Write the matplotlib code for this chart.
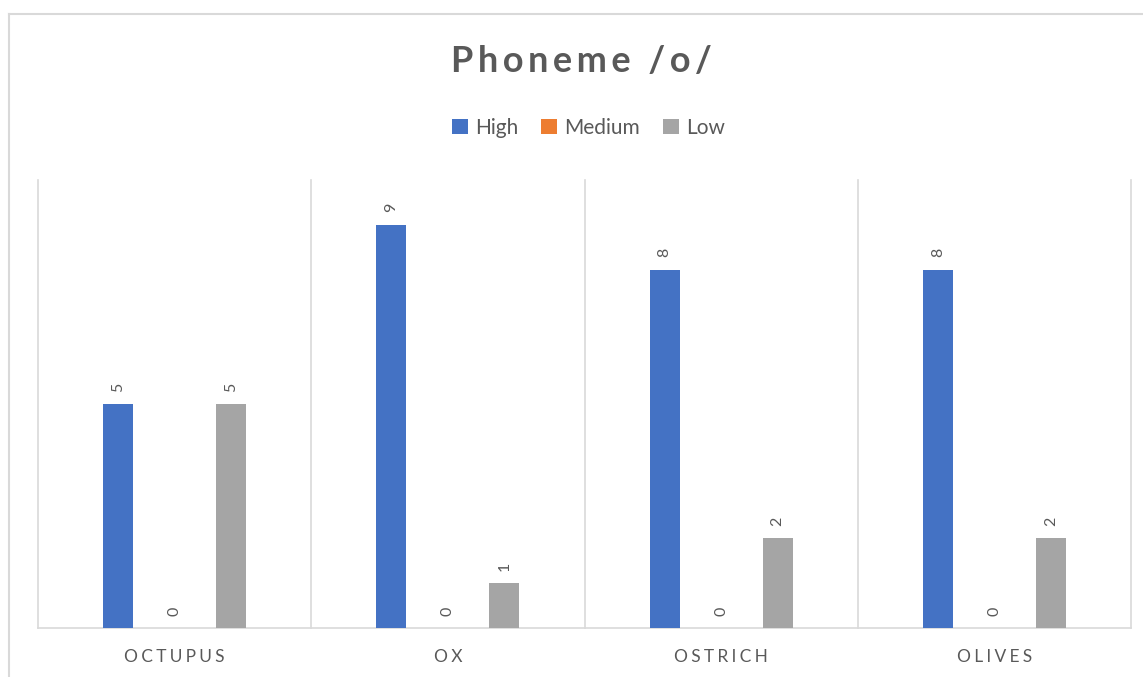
import matplotlib.pyplot as plt
import numpy as np
from matplotlib.patches import Patch

plt.rcParams["font.family"] = ["Lato", "DejaVu Sans"]

# Word counts per rating level for each /o/ picture word
categories = ["OCTUPUS", "OX", "OSTRICH", "OLIVES"]
series_names = ["High", "Medium", "Low"]
high = [5, 9, 8, 8]
medium = [0, 0, 0, 0]
low = [5, 1, 2, 2]

colors = ["#4472c4", "#ed7d31", "#a5a5a5"]
text_grey = "#595959"
grid_grey = "#d9d9d9"


def spaced(text, gap="\u2009"):
    return gap.join(text)


fig = plt.figure(figsize=(11.43, 6.77), dpi=100)
ax = fig.add_axes([38 / 1143, 49 / 677, 1093 / 1143, 448 / 677])

x = np.arange(len(categories))
offsets = [-0.207, 0.0, 0.207]
bar_w = 0.11
for vals, name, color, off in zip([high, medium, low], series_names, colors, offsets):
    bars = ax.bar(x + off, vals, width=bar_w, color=color, label=name, zorder=3)
    for b, v in zip(bars, vals):
        ax.annotate(f"{v}", xy=(b.get_x() + b.get_width() / 2, v),
                    xytext=(0, 9), textcoords="offset points",
                    rotation=90, ha="center", va="bottom",
                    fontsize=11.5, color=text_grey)

ax.set_xlim(-0.5, len(categories) - 0.5)
ax.set_ylim(0, 10)
ax.set_yticks([])
ax.set_xticks(x)
ax.set_xticklabels([spaced(c, "\u2009\u200a") for c in categories],
                   fontsize=12.5, color=text_grey)
ax.tick_params(axis="x", length=0, pad=15)

for b in np.arange(-0.5, len(categories), 1.0):
    ax.axvline(b, color=grid_grey, lw=1.2, zorder=1, clip_on=False)
for side in ["top", "right", "left"]:
    ax.spines[side].set_visible(False)
ax.spines["bottom"].set_color(grid_grey)
ax.spines["bottom"].set_linewidth(1.2)

fig.text(0.509, 1 - 62 / 677, spaced("Phoneme /o/"), ha="center", va="center",
         fontsize=26, fontweight="bold", color=text_grey)

handles = [Patch(facecolor=c, label=n) for c, n in zip(colors, series_names)]
fig.legend(handles=handles, loc="center", bbox_to_anchor=(0.515, 1 - 128 / 677),
           ncol=3, frameon=False, fontsize=15, labelcolor=text_grey,
           handlelength=0.75, handleheight=0.75, handletextpad=0.35,
           columnspacing=1.1)

# Outer chart frame (top and left edges)
fig.add_artist(plt.Line2D([9 / 1143, 1], [1 - 14 / 677] * 2, color=grid_grey,
                          lw=1.5, transform=fig.transFigure))
fig.add_artist(plt.Line2D([9 / 1143] * 2, [0, 1 - 14 / 677], color=grid_grey,
                          lw=1.5, transform=fig.transFigure))

fig.savefig("out.png", dpi=100)
